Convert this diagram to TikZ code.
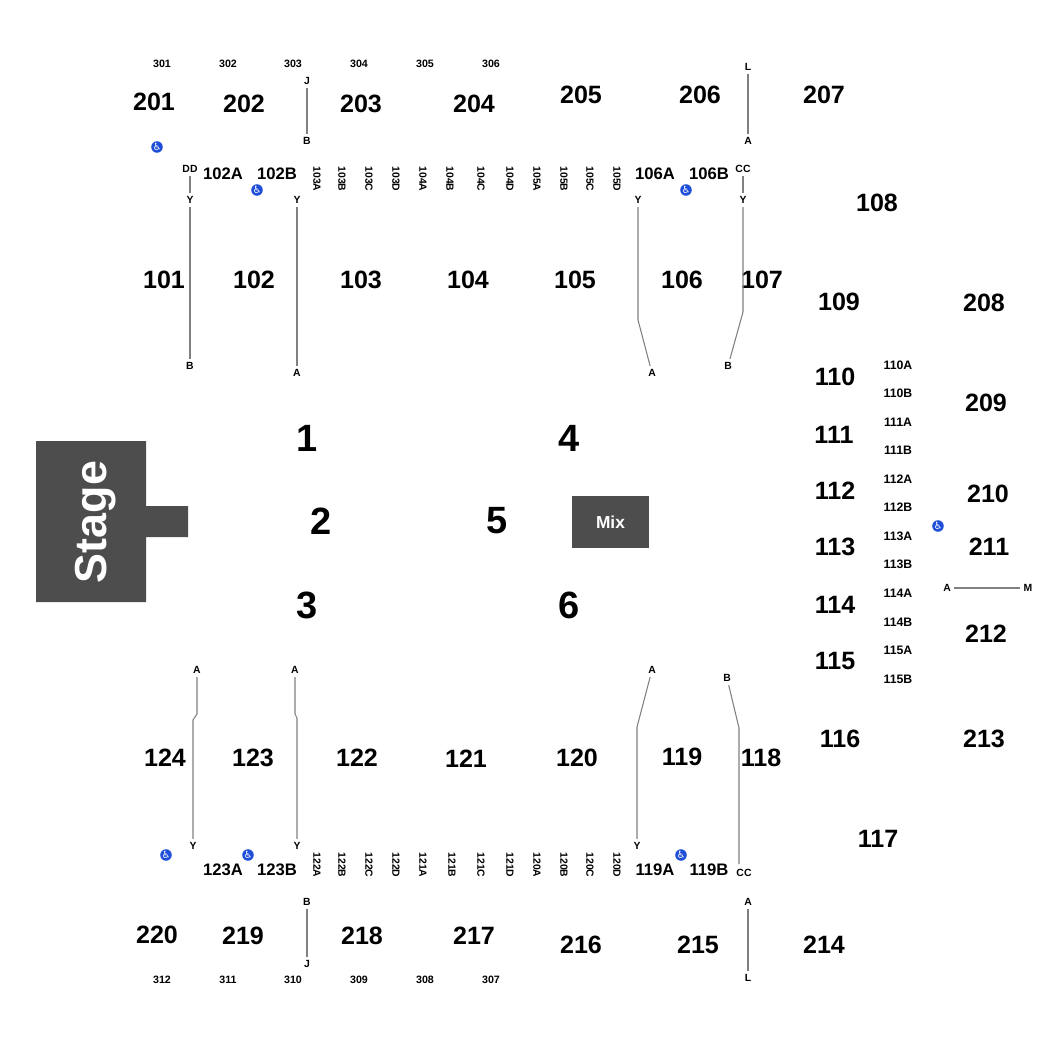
\documentclass[tikz,border=0pt]{standalone}
\usepackage{fontspec}
\setmainfont{Liberation Sans}
\newfontfamily\iconfont{DejaVu Sans}
\definecolor{stagegray}{HTML}{4D4D4D}
\definecolor{rowline}{HTML}{808080}
\definecolor{accessblue}{HTML}{1F4FD8}
\tikzset{
  zone/.style={inner sep=0pt, font=\bfseries\fontsize{28.5}{30}\selectfont},
  sec/.style={inner sep=0pt, font=\bfseries\fontsize{18.8}{20}\selectfont},
  sub/.style={inner sep=0pt, font=\bfseries\fontsize{12.5}{14}\selectfont},
  upper/.style={inner sep=0pt, font=\bfseries\fontsize{8}{9}\selectfont},
  side/.style={inner sep=0pt, font=\bfseries\fontsize{9.2}{10}\selectfont},
  vert/.style={inner sep=0pt, rotate=-90, font=\bfseries\fontsize{7.8}{8}\selectfont},
  rowmark/.style={inner sep=2.5pt, font=\bfseries\fontsize{7.8}{8}\selectfont},
  rowlink/.style={draw=rowline, line width=0.8pt},
  access/.style={shape=circle, fill=accessblue, text=white, inner sep=0pt, minimum size=7.5pt, font=\iconfont\fontsize{7.5}{8}\selectfont},
  block/.style={fill=stagegray, draw=none}
}
\begin{document}
\begin{tikzpicture}[x=0.75pt, y=-0.75pt]
\path[use as bounding box] (0,0) rectangle (1050,1050);
% stage and mix
\fill[block] (36,441) -- (146,441) -- (146,506) -- (188,506) -- (188,537) -- (146,537) -- (146,602) -- (36,602) -- cycle;
\node[rotate=90, inner sep=0pt, text=white, font=\bfseries\fontsize{33.6}{36}\selectfont] (stage) at (95.5,522) {Stage};
\node[block, minimum width=57.75pt, minimum height=39pt, inner sep=0pt, text=white, font=\bfseries\fontsize{13}{15}\selectfont] (mix) at (610.5,522) {Mix};
% floor
\node[zone] (z1) at (307,438) {1};
\node[zone] (z2) at (321,521) {2};
\node[zone] (z3) at (307,605) {3};
\node[zone] (z4) at (569,438) {4};
\node[zone] (z5) at (497,521) {5};
\node[zone] (z6) at (569,605) {6};
% upper rows
\node[upper] (s301) at (162,64) {301};
\node[upper] (s302) at (228,64) {302};
\node[upper] (s303) at (293,64) {303};
\node[upper] (s304) at (359,64) {304};
\node[upper] (s305) at (425,64) {305};
\node[upper] (s306) at (491,64) {306};
\node[upper] (s312) at (162,980) {312};
\node[upper] (s311) at (228,980) {311};
\node[upper] (s310) at (293,980) {310};
\node[upper] (s309) at (359,980) {309};
\node[upper] (s308) at (425,980) {308};
\node[upper] (s307) at (491,980) {307};
% sections
\node[sec] (s201) at (154,102) {201};
\node[sec] (s202) at (244,104) {202};
\node[sec] (s203) at (361,104) {203};
\node[sec] (s204) at (474,104) {204};
\node[sec] (s205) at (581,95) {205};
\node[sec] (s206) at (700,95) {206};
\node[sec] (s207) at (824,95) {207};
\node[sec] (s108) at (877,203) {108};
\node[sec] (s109) at (839,302) {109};
\node[sec] (s208) at (984,303) {208};
\node[sec] (s110) at (835,377) {110};
\node[sec] (s209) at (986,403) {209};
\node[sec] (s111) at (834,435) {111};
\node[sec] (s112) at (835,491) {112};
\node[sec] (s210) at (988,494) {210};
\node[sec] (s113) at (835,547) {113};
\node[sec] (s211) at (989,547) {211};
\node[sec] (s114) at (835,605) {114};
\node[sec] (s212) at (986,634) {212};
\node[sec] (s115) at (835,661) {115};
\node[sec] (s116) at (840,739) {116};
\node[sec] (s213) at (984,739) {213};
\node[sec] (s117) at (878,839) {117};
\node[sec] (s101) at (164,280) {101};
\node[sec] (s102) at (254,280) {102};
\node[sec] (s103) at (361,280) {103};
\node[sec] (s104) at (468,280) {104};
\node[sec] (s105) at (575,280) {105};
\node[sec] (s106) at (682,280) {106};
\node[sec] (s107) at (762,280) {107};
\node[sec] (s124) at (165,758) {124};
\node[sec] (s123) at (253,758) {123};
\node[sec] (s122) at (357,758) {122};
\node[sec] (s121) at (466,759) {121};
\node[sec] (s120) at (577,758) {120};
\node[sec] (s119) at (682,757) {119};
\node[sec] (s118) at (761,758) {118};
\node[sec] (s220) at (157,935) {220};
\node[sec] (s219) at (243,936) {219};
\node[sec] (s218) at (362,936) {218};
\node[sec] (s217) at (474,936) {217};
\node[sec] (s216) at (581,945) {216};
\node[sec] (s215) at (698,945) {215};
\node[sec] (s214) at (824,945) {214};
% split sections
\node[sub] (s102A) at (223,174) {102A};
\node[sub] (s102B) at (277,174) {102B};
\node[sub] (s106A) at (655,174) {106A};
\node[sub] (s106B) at (709,174) {106B};
\node[sub] (s123A) at (223,870) {123A};
\node[sub] (s123B) at (277,870) {123B};
\node[sub] (s119A) at (655,870) {119A};
\node[sub] (s119B) at (709,870) {119B};
% top strip
\node[vert] (s103A) at (317,179) {103A};
\node[vert] (s103B) at (342,179) {103B};
\node[vert] (s103C) at (369,179) {103C};
\node[vert] (s103D) at (396,179) {103D};
\node[vert] (s104A) at (423,179) {104A};
\node[vert] (s104B) at (450,179) {104B};
\node[vert] (s104C) at (481,179) {104C};
\node[vert] (s104D) at (510,179) {104D};
\node[vert] (s105A) at (537,179) {105A};
\node[vert] (s105B) at (564,179) {105B};
\node[vert] (s105C) at (590,179) {105C};
\node[vert] (s105D) at (617,179) {105D};
% bottom strip
\node[vert] (s122A) at (317,865) {122A};
\node[vert] (s122B) at (342,865) {122B};
\node[vert] (s122C) at (369,865) {122C};
\node[vert] (s122D) at (396,865) {122D};
\node[vert] (s121A) at (423,865) {121A};
\node[vert] (s121B) at (452,865) {121B};
\node[vert] (s121C) at (481,865) {121C};
\node[vert] (s121D) at (510,865) {121D};
\node[vert] (s120A) at (537,865) {120A};
\node[vert] (s120B) at (564,865) {120B};
\node[vert] (s120C) at (590,865) {120C};
\node[vert] (s120D) at (617,865) {120D};
% side strip
\node[side] (s110A) at (898,365) {110A};
\node[side] (s110B) at (898,393) {110B};
\node[side] (s111A) at (898,422) {111A};
\node[side] (s111B) at (898,450) {111B};
\node[side] (s112A) at (898,479) {112A};
\node[side] (s112B) at (898,507) {112B};
\node[side] (s113A) at (898,536) {113A};
\node[side] (s113B) at (898,564) {113B};
\node[side] (s114A) at (898,593) {114A};
\node[side] (s114B) at (898,622) {114B};
\node[side] (s115A) at (898,650) {115A};
\node[side] (s115B) at (898,679) {115B};
% accessible seating
\node[access] (w1) at (157,147) {♿};
\node[access] (w2) at (257,190) {♿};
\node[access] (w3) at (686,190) {♿};
\node[access] (w4) at (166,855) {♿};
\node[access] (w5) at (248,855) {♿};
\node[access] (w6) at (681,855) {♿};
\node[access] (w7) at (938,526) {♿};
% row marks
\node[rowmark] (j203) at (307,81) {J};
\node[rowmark] (b203) at (307,141) {B};
\node[rowmark] (l206) at (748,67) {L};
\node[rowmark] (a206) at (748,141) {A};
\node[rowmark] (dd101) at (190,169) {DD};
\node[rowmark] (y101) at (190,200) {Y};
\node[rowmark] (b101) at (190,366) {B};
\node[rowmark] (y102) at (297,200) {Y};
\node[rowmark] (a102) at (297,373) {A};
\node[rowmark] (y106) at (638,200) {Y};
\node[rowmark] (a106) at (652,373) {A};
\node[rowmark] (cc107) at (743,169) {CC};
\node[rowmark] (y107) at (743,200) {Y};
\node[rowmark] (b107) at (728,366) {B};
\node[rowmark] (a124) at (197,670) {A};
\node[rowmark] (y124) at (193,846) {Y};
\node[rowmark] (a123) at (295,670) {A};
\node[rowmark] (y123) at (297,846) {Y};
\node[rowmark] (a119) at (652,670) {A};
\node[rowmark] (y119) at (637,846) {Y};
\node[rowmark] (b118) at (727,678) {B};
\node[rowmark] (cc118) at (744,873) {CC};
\node[rowmark] (b219) at (307,902) {B};
\node[rowmark] (j219) at (307,964) {J};
\node[rowmark] (a215) at (748,902) {A};
\node[rowmark] (l215) at (748,978) {L};
\node[rowmark] (a212) at (947,588) {A};
\node[rowmark] (m212) at (1028,588) {M};
% bends
\coordinate (bend106) at (638,320);
\coordinate (bend107) at (743,312);
\coordinate (bend124a) at (197,714);
\coordinate (bend124b) at (193,720);
\coordinate (bend123a) at (295,714);
\coordinate (bend123b) at (297,718);
\coordinate (bend119) at (637,727);
\coordinate (bend118) at (739,728);
\coordinate (end118) at (739,864);
% row lines
\path [rowlink] (j203) edge (b203);
\path [rowlink] (l206) edge (a206);
\path [rowlink] (dd101) edge (y101);
\path [rowlink] (y101) edge (b101);
\path [rowlink] (y102) edge (a102);
\path [rowlink] (cc107) edge (y107);
\path [rowlink] (b219) edge (j219);
\path [rowlink] (a215) edge (l215);
\path [rowlink] (a212) edge (m212);
\draw [rowlink] (y106) -- (bend106) -- (a106);
\draw [rowlink] (y107) -- (bend107) -- (b107);
\draw [rowlink] (a124) -- (bend124a) -- (bend124b) -- (y124);
\draw [rowlink] (a123) -- (bend123a) -- (bend123b) -- (y123);
\draw [rowlink] (a119) -- (bend119) -- (y119);
\draw [rowlink] (b118) -- (bend118) -- (end118);
\end{tikzpicture}
\end{document}
